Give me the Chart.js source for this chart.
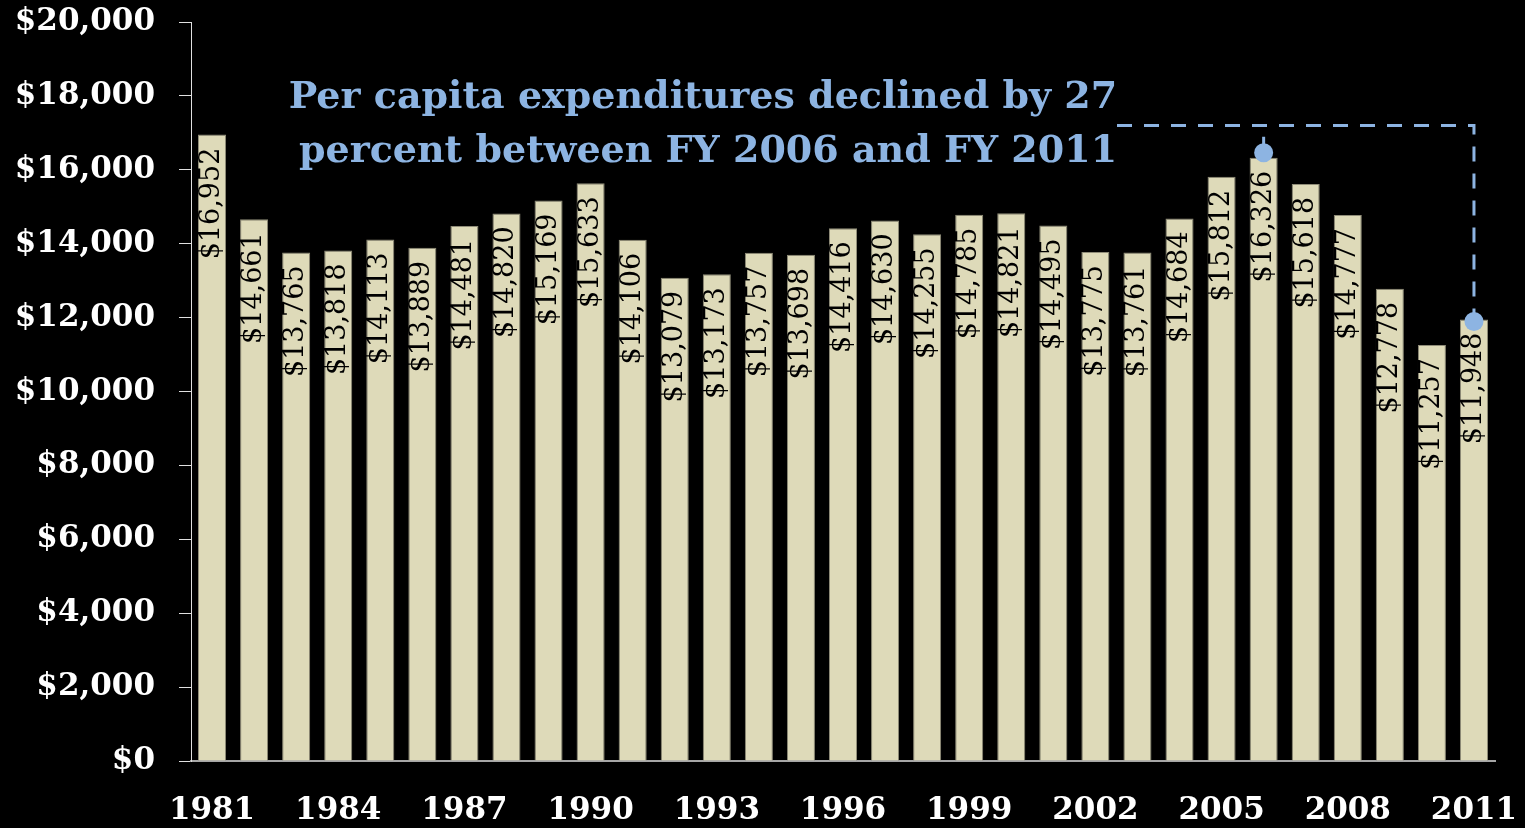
<!DOCTYPE html>
<html>
<head>
<meta charset="utf-8">
<script src="https://cdn.jsdelivr.net/npm/chart.js@4.4.1/dist/chart.umd.min.js"></script>
<style>
  html, body { margin: 0; padding: 0; background: #000; overflow: hidden; }
  canvas { display: block; }
</style>
</head>
<body>
<canvas id="perCapitaChart" width="1525" height="828"></canvas>
<script>
const years = [
    '1981', '1982', '1983', '1984', '1985', '1986', '1987', '1988', '1989', '1990',
    '1991', '1992', '1993', '1994', '1995', '1996', '1997', '1998', '1999', '2000',
    '2001', '2002', '2003', '2004', '2005', '2006', '2007', '2008', '2009', '2010',
    '2011'
];
const spending = [
    16952, 14661, 13765, 13818, 14113, 13889, 14481, 14820, 15169, 15633,
    14106, 13079, 13173, 13757, 13698, 14416, 14630, 14255, 14785, 14821,
    14495, 13775, 13761, 14684, 15812, 16326, 15618, 14777, 12778, 11257,
    11948
];
const yTicks = { min: 0, max: 20000, step: 2000 };
const noteLines = [
    'Per capita expenditures declined by 27',
    'percent between FY 2006 and FY 2011'
];
const fromYear = '2006';
const toYear = '2011';

const barColor = '#dedab9';
const noteBlue = '#8db4e2';

dollars = (v) => '$' + String(v).replace(/\B(?=(\d{3})+(?!\d))/g, ',');

// vertical value labels inside the top of every bar
const valueLabels = {
    id: 'valueLabels',
    afterDatasetsDraw(chart) {
        const ctx = chart.ctx;
        const meta = chart.getDatasetMeta(0);
        ctx.save();
        ctx.fillStyle = '#000';
        ctx.font = '27px "DejaVu Serif"';
        ctx.textAlign = 'right';
        ctx.textBaseline = 'middle';
        meta.data.forEach((bar, i) => {
            ctx.save();
            ctx.translate(bar.x, bar.y + 13);
            ctx.rotate(-Math.PI / 2);
            ctx.fillText(dollars(spending[i]), 0, 0);
            ctx.restore();
        });
        ctx.restore();
    }
};

// callout text plus the dashed bracket between 2006 and 2011
const declineNote = {
    id: 'declineNote',
    afterDraw(chart) {
        const ctx = chart.ctx;
        const meta = chart.getDatasetMeta(0);
        const yScale = chart.scales.y;
        const a = meta.data[years.indexOf(fromYear)];
        const b = meta.data[years.indexOf(toYear)];
        const lineY = yScale.getPixelForValue(17200);

        ctx.save();
        ctx.fillStyle = noteBlue;
        ctx.font = 'bold 38px "DejaVu Serif"';
        ctx.textAlign = 'center';
        ctx.textBaseline = 'alphabetic';
        ctx.fillText(noteLines[0], 703, 108);
        ctx.fillText(noteLines[1], 708, 162);

        ctx.strokeStyle = noteBlue;
        ctx.lineWidth = 3;
        ctx.setLineDash([15, 12]);
        ctx.beginPath();
        ctx.moveTo(1117, lineY);
        ctx.lineTo(b.x, lineY);
        ctx.lineTo(b.x, b.y);
        ctx.stroke();

        ctx.setLineDash([]);
        ctx.beginPath();
        ctx.moveTo(a.x, a.y - 21);
        ctx.lineTo(a.x, a.y - 5);
        ctx.stroke();

        ctx.beginPath();
        ctx.arc(a.x, a.y - 5, 9.5, 0, Math.PI * 2);
        ctx.fill();
        ctx.beginPath();
        ctx.arc(b.x, b.y + 2, 9.5, 0, Math.PI * 2);
        ctx.fill();

        // tail of the heading that sits above the canvas
        ctx.fillStyle = '#fff';
        ctx.font = 'bold 40px "DejaVu Serif"';
        ctx.textAlign = 'left';
        ctx.fillText('(', 1152, -7);
        ctx.fillText(')', 1431, -7);
        ctx.restore();
    }
};

const data = {
    labels: years,
    datasets: [{
        label: 'Per capita expenditures',
        data: spending,
        backgroundColor: barColor,
        borderColor: '#8f8c78',
        borderWidth: 1,
        categoryPercentage: 1.0,
        barPercentage: 0.667
    }]
};

const config = {
    type: 'bar',
    data: data,
    options: {
        responsive: false,
        animation: false,
        layout: {
            padding: { top: 22, right: 30, bottom: 0, left: 0 }
        },
        plugins: {
            legend: { display: false },
            tooltip: { enabled: false }
        },
        scales: {
            x: {
                grid: { display: false },
                border: { display: true, color: '#a6a6a6', width: 2 },
                ticks: {
                    color: '#fff',
                    font: { size: 31, weight: 'bold' },
                    padding: 23,
                    autoSkip: false,
                    maxRotation: 0,
                    callback: (val, i) => i % 3 === 0 ? years[i] : ''
                },
                afterFit: (scale) => {
                    scale.height = 67;
                    scale.paddingLeft = 0;
                    scale.paddingRight = 0;
                }
            },
            y: {
                min: yTicks.min,
                max: yTicks.max,
                grid: {
                    drawOnChartArea: false,
                    color: '#e0e0e0',
                    tickLength: 12
                },
                border: { display: true, color: '#e0e0e0', width: 1 },
                ticks: {
                    stepSize: yTicks.step,
                    color: '#fff',
                    font: { size: 31, weight: 'bold' },
                    padding: 24,
                    callback: (v) => dollars(v)
                },
                afterFit: (scale) => {
                    scale.width = 191;
                    scale.paddingTop = 0;
                    scale.paddingBottom = 0;
                }
            }
        }
    },
    plugins: [valueLabels, declineNote]
};

Chart.defaults.font.family = '"DejaVu Serif"';

let perCapitaChart = new Chart(
    document.getElementById('perCapitaChart'),
    config
);
</script>
</body>
</html>
